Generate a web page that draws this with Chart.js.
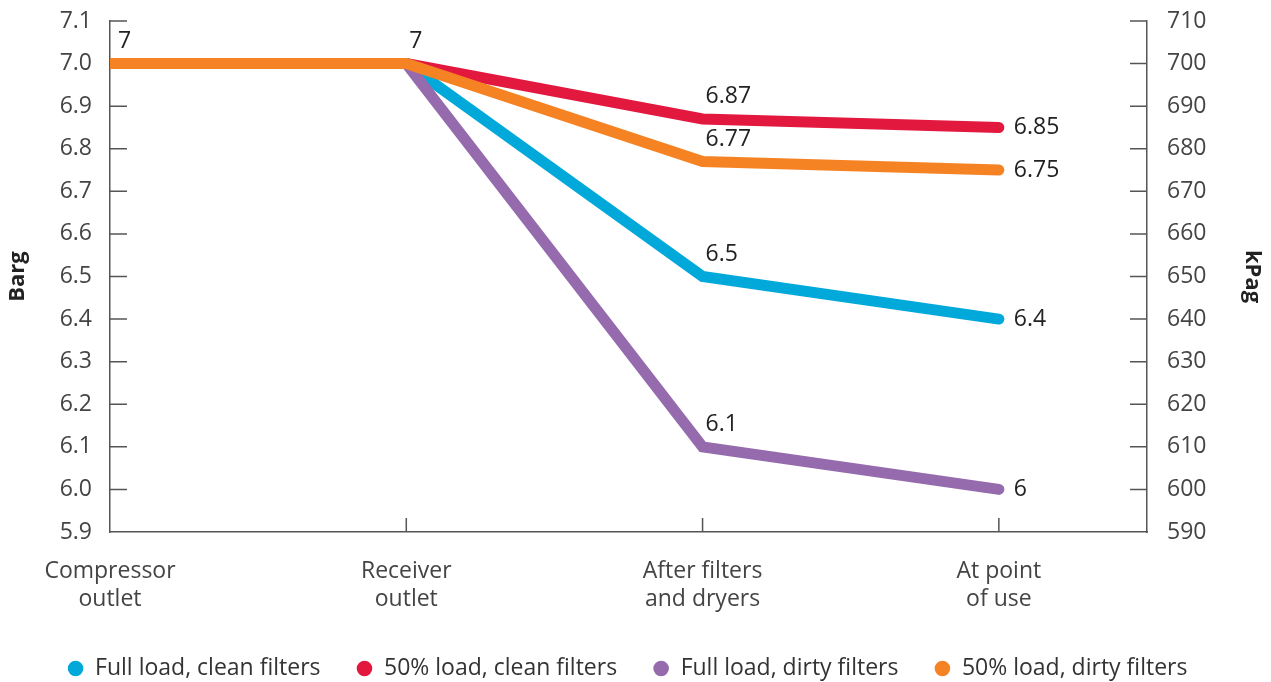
<!DOCTYPE html>
<html>
<head>
<meta charset="utf-8">
<script src="https://cdn.jsdelivr.net/npm/chart.js@4/dist/chart.umd.min.js"></script>
<style>
html,body{margin:0;padding:0;background:#fff;}
#wrap{width:1271px;height:682px;position:relative;}
</style>
</head>
<body>
<div id="wrap"><canvas id="c" width="1271" height="682"></canvas></div>
<script>
// ---- data ----
const categories = [['Compressor','outlet'], ['Receiver','outlet'], ['After filters','and dryers'], ['At point','of use']];
const seriesNames = ['Full load, clean filters', '50% load, clean filters', 'Full load, dirty filters', '50% load, dirty filters'];
const fullClean = [7, 7, 6.5, 6.4];
const halfClean = [7, 7, 6.87, 6.85];
const fullDirty = [7, 7, 6.1, 6.0];
const halfDirty = [7, 7, 6.77, 6.75];
const leftTicks = [5.9, 7.1, 0.1];   // min, max, step (Barg)
const rightTicks = [590, 710, 10];   // min, max, step (kPag)

const colors = ['#00A9DA', '#E2183F', '#956BAE', '#F58324'];
const FONT = "'Open Sans', sans-serif";

function pts(arr){ return arr.map((v,i)=>({x:i, y:v})); }

const allSeries = [fullClean, halfClean, fullDirty, halfDirty];
const drawOrder = [3, 2, 1, 0];

const datasets = allSeries.map((s, k) => ({
  label: seriesNames[k],
  data: pts(s),
  borderColor: colors[k],
  backgroundColor: colors[k],
  borderWidth: 11,
  borderCapStyle: 'round',
  borderJoinStyle: 'miter',
  pointRadius: 0,
  pointHoverRadius: 0,
  tension: 0,
  order: drawOrder[k],
  yAxisID: 'y'
}));

const tickMarks = {
  id: 'tickMarks',
  beforeDatasetsDraw(chart){
    const ctx = chart.ctx;
    const y = chart.scales.y, y2 = chart.scales.y2, x = chart.scales.x;
    const ca = chart.chartArea;
    ctx.save();
    ctx.strokeStyle = '#555';
    ctx.lineWidth = 1.5;
    ctx.beginPath();
    y.ticks.forEach(t => {
      const py = y.getPixelForValue(t.value);
      if (Math.abs(py - ca.bottom) < 1) return;
      ctx.moveTo(ca.left, py); ctx.lineTo(ca.left + 17, py);
    });
    y2.ticks.forEach(t => {
      const py = y2.getPixelForValue(t.value);
      if (Math.abs(py - ca.bottom) < 1) return;
      ctx.moveTo(ca.right, py); ctx.lineTo(ca.right - 17, py);
    });
    x.ticks.forEach(t => {
      if (t.value === 0) return;
      const px = x.getPixelForValue(t.value);
      ctx.moveTo(px, ca.bottom); ctx.lineTo(px, ca.bottom - 14);
    });
    ctx.stroke();
    ctx.restore();
  }
};

const dataLabels = {
  id: 'dataLabels',
  afterDatasetsDraw(chart){
    const ctx = chart.ctx;
    const x = chart.scales.x, y = chart.scales.y;
    const done = new Set();
    ctx.save();
    ctx.font = "23px " + FONT;
    ctx.fillStyle = '#222';
    ctx.textBaseline = 'middle';
    ctx.textAlign = 'left';
    allSeries.forEach(s => {
      s.forEach((v, i) => {
        const key = i + ':' + v;
        if (done.has(key)) return;
        done.add(key);
        const px = x.getPixelForValue(i), py = y.getPixelForValue(v);
        const txt = String(v);
        if (i === s.length - 1) ctx.fillText(txt, px + 15, py);
        else ctx.fillText(txt, px + (i === 0 ? 8 : 3), py - 22);
      });
    });
    ctx.restore();
  }
};

function noPad(s){ s.paddingTop = 0; s.paddingBottom = 0; }

new Chart(document.getElementById('c'), {
  type: 'line',
  data: { datasets },
  options: {
    responsive: false,
    animation: false,
    events: [],
    layout: { padding: { top: 21, right: 16, bottom: -8, left: 0 } },
    plugins: {
      tooltip: { enabled: false },
      legend: {
        position: 'bottom',
        labels: {
          usePointStyle: true,
          pointStyle: 'circle',
          boxWidth: 16,
          boxHeight: 11,
          padding: 36,
          color: '#333',
          font: { family: FONT, size: 23 },
          sort: (a, b) => a.datasetIndex - b.datasetIndex,
          generateLabels(chart){
            return Chart.defaults.plugins.legend.labels.generateLabels(chart).map(l => Object.assign(l, {lineWidth: 0, fillStyle: colors[l.datasetIndex], strokeStyle: colors[l.datasetIndex]}));
          }
        }
      }
    },
    scales: {
      x: {
        type: 'linear',
        min: 0,
        max: 3.5,
        afterFit(s){ s.height = 89; },
        grid: { display: false, drawTicks: false },
        border: { display: true, color: '#555', width: 1.5 },
        ticks: {
          stepSize: 1,
          includeBounds: false,
          autoSkip: false,
          maxRotation: 0,
          padding: 26,
          color: '#444',
          font: { family: FONT, size: 23 },
          callback: (v) => (Number.isInteger(v) && categories[v]) ? categories[v] : ''
        }
      },
      y: {
        position: 'left',
        min: leftTicks[0],
        max: leftTicks[1],
        afterFit(s){ s.width = 110; noPad(s); },
        grid: { display: false, drawTicks: false },
        border: { display: true, color: '#555', width: 1.5 },
        title: { display: true, text: 'Barg', color: '#222', font: { family: FONT, size: 22, weight: 'bold' }, padding: { top: 5, bottom: 0 } },
        ticks: {
          stepSize: leftTicks[2],
          padding: 18,
          color: '#444',
          font: { family: FONT, size: 23 },
          callback: (v) => Number(v).toFixed(1)
        }
      },
      y2: {
        position: 'right',
        min: rightTicks[0],
        max: rightTicks[1],
        afterFit(s){ s.width = 108; noPad(s); },
        grid: { display: false, drawTicks: false },
        border: { display: true, color: '#555', width: 1.5 },
        title: { display: true, text: 'kPag', color: '#222', font: { family: FONT, size: 22, weight: 'bold' }, padding: { top: -10, bottom: 0 } },
        ticks: {
          stepSize: rightTicks[2],
          padding: 20,
          color: '#444',
          font: { family: FONT, size: 23 },
          callback: (v) => String(v)
        }
      }
    }
  },
  plugins: [tickMarks, dataLabels]
});
</script>
</body>
</html>
